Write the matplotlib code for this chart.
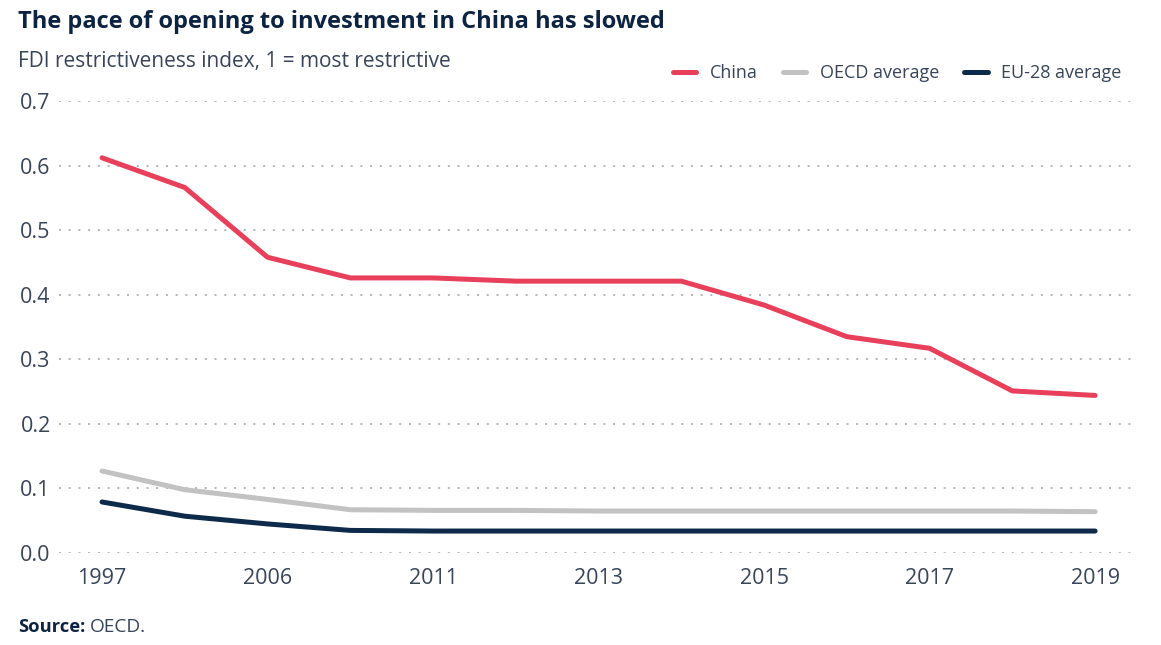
import matplotlib
matplotlib.use("Agg")
import matplotlib.pyplot as plt

years = ["1997", "2003", "2006", "2010", "2011", "2012", "2013", "2014", "2015", "2016", "2017", "2018", "2019"]
china = [0.612, 0.566, 0.458, 0.426, 0.426, 0.421, 0.421, 0.421, 0.384, 0.335, 0.317, 0.251, 0.244]
oecd = [0.127, 0.098, 0.083, 0.067, 0.066, 0.066, 0.065, 0.065, 0.065, 0.065, 0.065, 0.065, 0.064]
eu28 = [0.079, 0.057, 0.045, 0.035, 0.034, 0.034, 0.034, 0.034, 0.034, 0.034, 0.034, 0.034, 0.034]
yticks = [0.0, 0.1, 0.2, 0.3, 0.4, 0.5, 0.6, 0.7]
ytick_labels = ["0.0", "0.1", "0.2", "0.3", "0.4", "0.5", "0.6", "0.7"]
xtick_labels = ["1997", "", "2006", "", "2011", "", "2013", "", "2015", "", "2017", "", "2019"]

FONT = ["Open Sans", "DejaVu Sans"]
plt.rcParams['font.family'] = FONT

W, H = 1161, 645
fig = plt.figure(figsize=(W / 100, H / 100), dpi=100)
ax = fig.add_axes([59 / W, 1 - 553 / H, (1134 - 59) / W, (553 - 101) / H])

x = list(range(len(years)))
navy = "#0d2342"
txt = "#37445a"
ax.plot(x, china, color="#e8405a", lw=3.6, solid_capstyle="round", label="China", zorder=3)
ax.plot(x, oecd, color="#c2c2c2", lw=3.6, solid_capstyle="round", label="OECD average", zorder=3)
ax.plot(x, eu28, color="#0d2a4a", lw=3.6, solid_capstyle="round", label="EU-28 average", zorder=3)

ax.set_xlim(-0.52, 12.47)
ax.set_ylim(0, 0.7)
ax.set_yticks(yticks)
ax.set_yticklabels(ytick_labels)
ax.set_xticks(x)
ax.set_xticklabels(xtick_labels)
for s in ax.spines.values():
    s.set_visible(False)
ax.tick_params(axis="both", length=0, colors=txt, labelsize=15.5)
ax.tick_params(axis="y", pad=6)
ax.tick_params(axis="x", pad=11)
ax.yaxis.grid(True, linestyle=(0, (1, 4)), linewidth=1.4, color="#b5b5b5")
ax.set_axisbelow(True)
ax.patch.set_visible(False)

renderer = fig.canvas.get_renderer()


def fit_text(xpx, ypx, s, target_w, **kw):
    t = fig.text(xpx / W, 1 - ypx / H, s, va="center", ha="left", fontsize=12, **kw)
    w = t.get_window_extent(renderer).width
    t.set_fontsize(12 * target_w / w)
    return t


fit_text(18, 22, "The pace of opening to investment in China has slowed", 645,
         fontweight="bold", color=navy)
fit_text(18, 62, "FDI restrictiveness index, 1 = most restrictive", 430, color=txt)
t = fit_text(18, 627, "Source:", 67, fontweight="bold", color=navy)
bb = t.get_window_extent(renderer)
fit_text(bb.x1 + 5, 627, "OECD.", 56, color=txt)

leg = fig.legend(loc="center right", bbox_to_anchor=(1138 / W, 1 - 73 / H), ncol=3, frameon=False,
                 fontsize=13, handlelength=1.3, handletextpad=0.75, columnspacing=1.4)
for tx in leg.get_texts():
    tx.set_color(txt)

fig.savefig("out.png", dpi=100)
